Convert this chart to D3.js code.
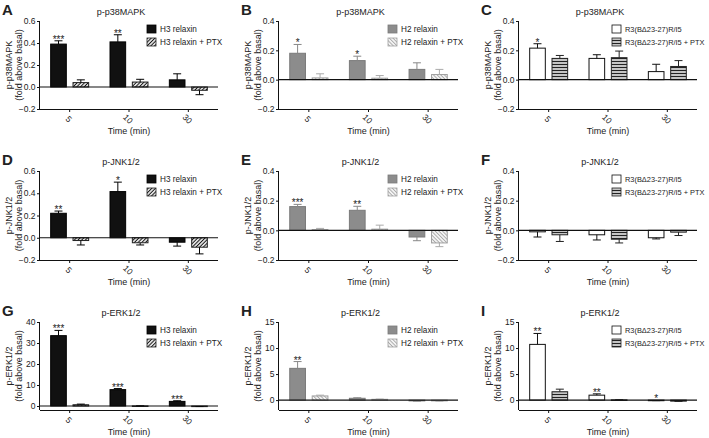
<!DOCTYPE html>
<html><head><meta charset="utf-8">
<script src="https://cdn.jsdelivr.net/npm/d3@7"></script>
<style>
body{margin:0;background:#fff}
text{font-family:"Liberation Sans",Arial,Helvetica,sans-serif;fill:#222}
</style>
</head><body><svg id="c" width="709" height="438"></svg>
<script>
// ---------- data ----------
const times = ["5", "10", "30"];

const p38_H3 = [0.39, 0.41, 0.065];
const p38_H3_sem = [0.03, 0.065, 0.055];
const p38_H3ptx = [0.04, 0.045, -0.03];
const p38_H3ptx_sem = [0.025, 0.025, 0.04];
const p38_H2 = [0.18, 0.13, 0.07];
const p38_H2_sem = [0.06, 0.03, 0.045];
const p38_H2ptx = [0.012, 0.01, 0.035];
const p38_H2ptx_sem = [0.028, 0.018, 0.035];
const p38_R3 = [0.215, 0.145, 0.055];
const p38_R3_sem = [0.03, 0.025, 0.05];
const p38_R3ptx = [0.145, 0.15, 0.09];
const p38_R3ptx_sem = [0.02, 0.045, 0.04];

const jnk_H3 = [0.22, 0.415, -0.04];
const jnk_H3_sem = [0.02, 0.085, 0.035];
const jnk_H3ptx = [-0.025, -0.045, -0.085];
const jnk_H3ptx_sem = [0.04, 0.02, 0.06];
const jnk_H2 = [0.16, 0.135, -0.045];
const jnk_H2_sem = [0.015, 0.027, 0.025];
const jnk_H2ptx = [0.005, 0.008, -0.085];
const jnk_H2ptx_sem = [0.008, 0.027, 0.025];
const jnk_R3 = [-0.01, -0.03, -0.05];
const jnk_R3_sem = [0.035, 0.035, 0.008];
const jnk_R3ptx = [-0.03, -0.06, -0.012];
const jnk_R3ptx_sem = [0.045, 0.025, 0.023];

const erk_H3 = [33.5, 7.8, 2.2];
const erk_H3_sem = [2.5, 0.5, 0.3];
const erk_H3ptx = [0.6, 0.05, -0.2];
const erk_H3ptx_sem = [0.3, 0.05, 0.05];
const erk_H2 = [6.1, 0.35, -0.15];
const erk_H2_sem = [1.3, 0.1, 0.05];
const erk_H2ptx = [0.8, 0.15, -0.15];
const erk_H2ptx_sem = [0.15, 0.05, 0.05];
const erk_R3 = [10.7, 0.95, -0.05];
const erk_R3_sem = [2.1, 0.25, 0.05];
const erk_R3ptx = [1.6, 0.05, -0.2];
const erk_R3ptx_sem = [0.5, 0.03, 0.05];

const starsA = ["***", "**", ""];
const starsB = ["*", "*", ""];
const starsC = ["*", "", ""];
const starsD = ["**", "*", ""];
const starsE = ["***", "**", ""];
const starsF = ["", "", ""];
const starsG = ["***", "***", "***"];
const starsH = ["**", "", ""];
const starsI = ["**", "**", "*"];

const legendH3 = ["H3 relaxin", "H3 relaxin + PTX"];
const legendH2 = ["H2 relaxin", "H2 relaxin + PTX"];
const legendR3 = ["R3(B\u039423-27)R/I5", "R3(B\u039423-27)R/I5 + PTX"];

const ticks6 = [-0.2, 0, 0.2, 0.4, 0.6];
const ticks4 = [-0.2, 0, 0.2, 0.4];
const ticksG = [0, 10, 20, 30, 40];
const ticksHI = [0, 5, 10, 15];

// ---------- layout ----------
const colX = [40, 279, 519], colEnd = [218, 458, 697];
const rowTop = [21, 171, 322], rowBot = [109, 260, 410];
const legOff = [107, 109, 93];

const svg = d3.select("#c");
const defs = svg.append("defs");
function pattern(id, bg, lineColor, angle, spacing, sw) {
  const p = defs.append("pattern").attr("id", id)
    .attr("patternUnits", "userSpaceOnUse")
    .attr("width", spacing).attr("height", spacing)
    .attr("patternTransform", `rotate(${angle})`);
  p.append("rect").attr("width", spacing).attr("height", spacing).attr("fill", bg);
  p.append("line").attr("x1", 0).attr("x2", spacing).attr("y1", spacing / 2).attr("y2", spacing / 2)
    .attr("stroke", lineColor).attr("stroke-width", sw);
}
pattern("hH3", "#fff", "#111", -45, 2.6, 1.1);
pattern("hH2", "#fff", "#a8a8a8", 45, 2.6, 1.1);
pattern("hR3", "#c4c4c4", "#222", 0, 3, 1);

const styles = {
  H3: {fill: ["#111", "url(#hH3)"], stroke: ["#000", "#222"], err: ["#000", "#000"]},
  H2: {fill: ["#8c8c8c", "url(#hH2)"], stroke: ["#7a7a7a", "#a0a0a0"], err: ["#888", "#aaa"]},
  R3: {fill: ["#fff", "url(#hR3)"], stroke: ["#111", "#222"], err: ["#111", "#222"]}
};

const panels = [
  {L: "A", t: "p-p38MAPK", yl: "p-p38MAPK", c: 0, r: 0, dom: [-0.2, 0.6], ticks: ticks6, fmt: ".1f", s: "H3", m: [p38_H3, p38_H3ptx], e: [p38_H3_sem, p38_H3ptx_sem], st: starsA, leg: legendH3},
  {L: "B", t: "p-p38MAPK", yl: "p-p38MAPK", c: 1, r: 0, dom: [-0.2, 0.4], ticks: ticks4, fmt: ".1f", s: "H2", m: [p38_H2, p38_H2ptx], e: [p38_H2_sem, p38_H2ptx_sem], st: starsB, leg: legendH2},
  {L: "C", t: "p-p38MAPK", yl: "p-p38MAPK", c: 2, r: 0, dom: [-0.2, 0.4], ticks: ticks4, fmt: ".1f", s: "R3", m: [p38_R3, p38_R3ptx], e: [p38_R3_sem, p38_R3ptx_sem], st: starsC, leg: legendR3},
  {L: "D", t: "p-JNK1/2", yl: "p-JNK1/2", c: 0, r: 1, dom: [-0.2, 0.6], ticks: ticks6, fmt: ".1f", s: "H3", m: [jnk_H3, jnk_H3ptx], e: [jnk_H3_sem, jnk_H3ptx_sem], st: starsD, leg: legendH3},
  {L: "E", t: "p-JNK1/2", yl: "p-JNK1/2", c: 1, r: 1, dom: [-0.2, 0.4], ticks: ticks4, fmt: ".1f", s: "H2", m: [jnk_H2, jnk_H2ptx], e: [jnk_H2_sem, jnk_H2ptx_sem], st: starsE, leg: legendH2},
  {L: "F", t: "p-JNK1/2", yl: "p-JNK1/2", c: 2, r: 1, dom: [-0.2, 0.4], ticks: ticks4, fmt: ".1f", s: "R3", m: [jnk_R3, jnk_R3ptx], e: [jnk_R3_sem, jnk_R3ptx_sem], st: starsF, leg: legendR3},
  {L: "G", t: "p-ERK1/2", yl: "p-ERK1/2", c: 0, r: 2, dom: [-1.9, 40], ticks: ticksG, fmt: "d", s: "H3", m: [erk_H3, erk_H3ptx], e: [erk_H3_sem, erk_H3ptx_sem], st: starsG, leg: legendH3},
  {L: "H", t: "p-ERK1/2", yl: "p-ERK1/2", c: 1, r: 2, dom: [-1.9, 15], ticks: ticksHI, fmt: "d", s: "H2", m: [erk_H2, erk_H2ptx], e: [erk_H2_sem, erk_H2ptx_sem], st: starsH, leg: legendH2},
  {L: "I", t: "p-ERK1/2", yl: "p-ERK1/2", c: 2, r: 2, dom: [-1.9, 15], ticks: ticksHI, fmt: "d", s: "R3", m: [erk_R3, erk_R3ptx], e: [erk_R3_sem, erk_R3ptx_sem], st: starsI, leg: legendR3}
];

panels.forEach(p => {
  const x0v = colX[p.c], x1v = colEnd[p.c], top = rowTop[p.r], bot = rowBot[p.r];
  const st = styles[p.s];
  const g = svg.append("g");
  const y = d3.scaleLinear().domain(p.dom).range([bot, top]);
  const xg = d3.scaleBand().domain(times).range([x0v, x1v]).paddingInner(0.36).paddingOuter(0.18);
  const xs = d3.scaleBand().domain([0, 1]).range([0, xg.bandwidth()]).paddingInner(0.3);

  // y axis
  const ya = g.append("g").attr("transform", `translate(${x0v},0)`)
    .call(d3.axisLeft(y).tickValues(p.ticks).tickFormat(d3.format(p.fmt)).tickSize(3).tickPadding(1.5));
  ya.select(".domain").attr("d", `M-0.5,${top}V${bot}`).attr("stroke", "#111");
  ya.selectAll(".tick line").attr("stroke", "#111");
  ya.selectAll(".tick text").attr("font-size", 8.5).attr("fill", "#222").style("font-family", '"Liberation Sans",Arial,sans-serif');

  // x axis (bottom)
  const xa = g.append("g").attr("transform", `translate(0,${bot})`)
    .call(d3.axisBottom(xg).tickSize(3).tickFormat(""));
  xa.select(".domain").attr("d", `M${x0v},0.5H${x1v}`).attr("stroke", "#111");
  xa.selectAll(".tick line").attr("stroke", "#111");
  g.selectAll(".xl").data(times).join("text")
    .attr("transform", d => `translate(${xg(d) + xg.bandwidth() / 2 - 1},${bot + 10}) rotate(45)`)
    .attr("text-anchor", "middle").attr("dy", "0.35em").attr("font-size", 8.5).text(d => d);
  g.append("text").attr("x", (x0v + x1v) / 2).attr("y", bot + 25).attr("text-anchor", "middle")
    .attr("font-size", 9).text("Time (min)");

  // bars
  [0, 1].forEach(si => {
    const vals = p.m[si], sems = p.e[si];
    g.selectAll(null).data(times).join("rect")
      .attr("x", (d) => xg(d) + xs(si))
      .attr("width", xs.bandwidth())
      .attr("y", (d, i) => y(Math.max(0, vals[i])))
      .attr("height", (d, i) => Math.max(0.6, Math.abs(y(vals[i]) - y(0))))
      .attr("fill", st.fill[si]).attr("stroke", st.stroke[si]).attr("stroke-width", 1);
    // error bars
    g.selectAll(null).data(times).join("path")
      .attr("d", (d, i) => {
        const cx = xg(d) + xs(si) + xs.bandwidth() / 2;
        const v = vals[i], e = v >= 0 ? v + sems[i] : v - sems[i];
        const y1 = y(v), y2 = y(e);
        return `M${cx},${y1}V${y2}M${cx - 4},${y2}H${cx + 4}`;
      })
      .attr("fill", "none").attr("stroke", st.err[si]).attr("stroke-width", 1);
  });

  // zero line
  g.append("line").attr("x1", x0v).attr("x2", x1v).attr("y1", y(0)).attr("y2", y(0))
    .attr("stroke", "#111").attr("stroke-width", 1.1);

  // stars
  g.selectAll(null).data(times).join("text")
    .attr("x", d => xg(d) + xs(0) + xs.bandwidth() / 2)
    .attr("y", (d, i) => {
      const v = p.m[0][i], top2 = v >= 0 ? v + p.e[0][i] : 0;
      return y(top2) + 2;
    })
    .attr("text-anchor", "middle").attr("font-size", 10).text((d, i) => p.st[i]);

  // title
  g.append("text").attr("x", (x0v + x1v) / 2 - 8).attr("y", top - 6).attr("text-anchor", "middle")
    .attr("font-size", 9).text(p.t);
  // panel letter
  g.append("text").attr("x", x0v - 38).attr("y", top - 6).attr("font-size", 15).attr("font-weight", "bold")
    .attr("fill", "#111").text(p.L);
  // y title
  const cy = (top + bot) / 2;
  g.append("text").attr("transform", `translate(${x0v - 28},${cy}) rotate(-90)`).attr("text-anchor", "middle")
    .attr("font-size", 9).text(p.yl);
  g.append("text").attr("transform", `translate(${x0v - 18},${cy}) rotate(-90)`).attr("text-anchor", "middle")
    .attr("font-size", 9).text("(fold above basal)");

  // legend
  const lx = x0v + legOff[p.c];
  const lfs = p.s === "R3" ? 7.4 : 8.2;
  p.leg.forEach((lab, i) => {
    const ly = top + 8 + i * 13;
    g.append("rect").attr("x", lx).attr("y", ly - 4).attr("width", 9).attr("height", 8)
      .attr("fill", st.fill[i]).attr("stroke", st.stroke[i]).attr("stroke-width", 0.8);
    g.append("text").attr("x", lx + 13).attr("y", ly + 3).attr("font-size", lfs).text(lab);
  });
});
</script>
</body></html>
